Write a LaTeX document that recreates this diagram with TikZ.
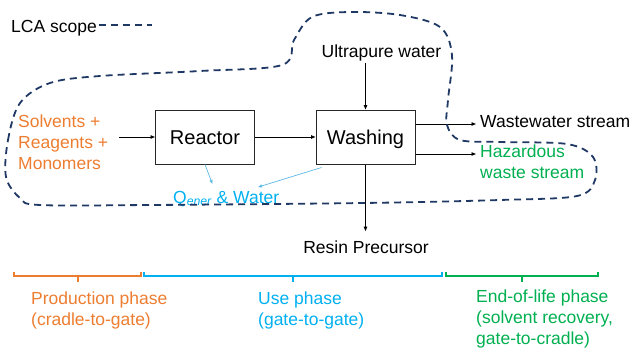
\documentclass[tikz,border=0pt]{standalone}
\usepackage{fontspec}
\setmainfont{Liberation Sans}
\usetikzlibrary{arrows.meta}
\definecolor{lcanavy}{HTML}{1F3864}
\definecolor{prodorange}{HTML}{ED7D31}
\definecolor{useblue}{HTML}{00B0F0}
\definecolor{eolgreen}{HTML}{00B050}
\definecolor{qblue}{HTML}{5DB8E4}

\begin{document}
\begin{tikzpicture}[x=1pt,y=-1pt,
	unit/.style={draw=black!85,line width=1pt,minimum width=99pt,minimum height=54pt,font=\fontsize{20}{24}\selectfont,text height=14pt,text depth=0pt},
	lbl/.style={inner sep=2pt,anchor=base west,align=left,font=\fontsize{17.5}{21}\selectfont},
	flow/.style={line width=0.9pt,-{Triangle[length=4.5pt,width=3.5pt]}},
	qflow/.style={qblue,line width=0.7pt,-{Triangle[length=4pt,width=3pt]}},
	scope/.style={lcanavy,line width=1.8pt,dash pattern=on 7pt off 5pt},
	phase/.style={line width=1.5pt}]
		\useasboundingbox (0,0) rectangle (632,348);
		\def\lcaboundary{plot[smooth cycle,tension=0.55] coordinates {(6,177) (8,140) (20,103) (50,83) (100,76) (200,71) (282,65) (294,40) (312,17) (350,12) (400,15) (440,27) (452,55) (448,100) (447,125) (460,140) (500,142) (567,144) (593,157) (595,180) (577,196) (500,200) (363,203) (150,205) (40,205) (20,198)}}
		\node[lbl] (lca) at (9,32.5) {LCA scope};
		\draw[scope] (lca.east |- 0,25) -- ++(53,0);
		\node[unit] (Reactor) at (205,137) {Reactor};
		\node[unit] (Washing) at (365.5,137) {Washing};
		\node[lbl,text=prodorange] (feed) at (16,169) {Solvents +\\Reagents +\\Monomers};
		\coordinate (feedin) at (119,137);
		\node[lbl,anchor=base] (ultra) at (381.5,57) {Ultrapure water};
		\node[lbl] (waste) at (478,127) {Wastewater stream};
		\node[lbl,text=eolgreen] (hazard) at (478,178) {Hazardous\\waste stream};
		\node[lbl,anchor=base] (resin) at (366,253) {Resin Precursor};
		\node[lbl,text=useblue] (qener) at (171,203) {Q\textsubscript{\itshape ener} \& Water};
		\draw[flow] (feedin) -- (Reactor.west);
		\draw[flow] (Reactor) -- (Washing);
		\draw[flow] (Washing.north |- ultra.south) -- (Washing.north);
		\draw[flow,shorten >=2pt] (Washing.east |- 0,124) -- (waste.west |- 0,124);
		\draw[flow,shorten >=2pt] (Washing.east |- 0,154) -- (hazard.west |- 0,154);
		\draw[flow,shorten >=7pt] (Washing.south) -- (Washing.south |- resin.north);
		\draw[qflow,shorten >=5pt] (Reactor.south) -- ([xshift=-12pt]qener.north);
		\draw[qflow,shorten >=5pt] ([xshift=6pt,yshift=-3pt]Washing.south west) -- ([xshift=27pt]qener.north);
		\draw[scope] \lcaboundary;
		\foreach \xa/\xb/\xm/\col in {14/141/78/prodorange,144/442/293/useblue,446/598/522/eolgreen}
			\draw[phase,\col] (\xa,272) -- (\xa,276) -- (\xb,276) -- (\xb,272) (\xm,276) -- (\xm,282);
		\node[lbl,text=prodorange] (prod) at (29,325) {Production phase\\(cradle-to-gate)};
		\node[lbl,text=useblue] (use) at (256,325) {Use phase\\(gate-to-gate)};
		\node[lbl,text=eolgreen] (eol) at (474,344) {End-of-life phase\\(solvent recovery,\\gate-to-cradle)};
	\end{tikzpicture}
\end{document}
